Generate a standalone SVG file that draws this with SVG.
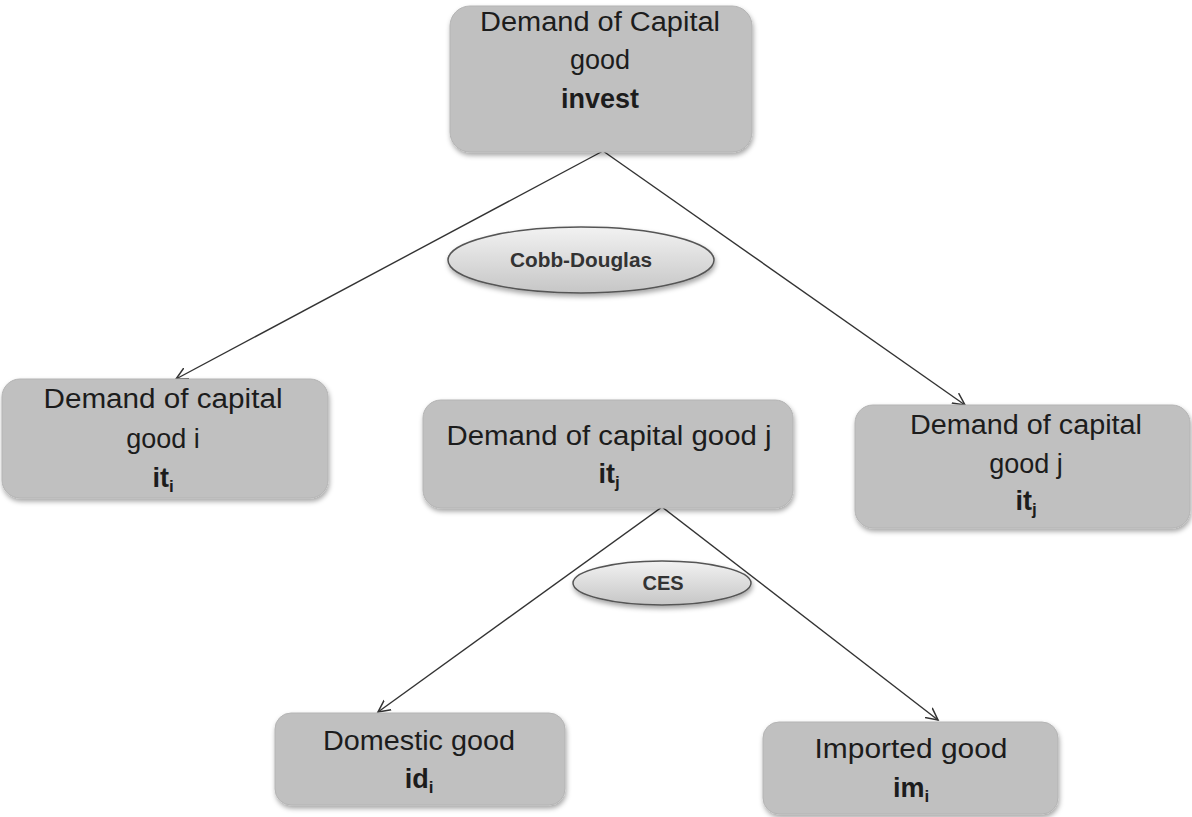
<svg xmlns="http://www.w3.org/2000/svg" width="1192" height="817" viewBox="0 0 1192 817">
<defs>
<filter id="sh" x="-10%" y="-10%" width="125%" height="135%">
<feDropShadow dx="1" dy="3" stdDeviation="2.5" flood-color="#000" flood-opacity="0.35"/>
</filter>
<linearGradient id="eg" x1="0" y1="0" x2="0" y2="1">
<stop offset="0" stop-color="#f2f2f2"/>
<stop offset="1" stop-color="#c6c6c6"/>
</linearGradient>
<marker id="arr" markerWidth="14" markerHeight="14" refX="12" refY="6" orient="auto" markerUnits="userSpaceOnUse" viewBox="0 0 14 12">
<path d="M0,0 L12,6 L0,12" fill="none" stroke="#333" stroke-width="1.5"/>
</marker>
</defs>
<style>
.box{fill:#c0c0c0;stroke:#b4b4b4;stroke-width:1;filter:url(#sh)}
.ell{fill:url(#eg);stroke:#555;stroke-width:1.5;filter:url(#sh)}
.t{font-family:"Liberation Sans",Arial,sans-serif;font-size:27px;fill:#1c1c1c;text-anchor:middle}
.b{font-weight:bold}
.s{font-size:17px}
.e{font-family:"Liberation Sans",Arial,sans-serif;font-size:20px;font-weight:bold;fill:#333;text-anchor:middle}
.c{stroke:#333;stroke-width:1.4;fill:none;marker-end:url(#arr)}
</style>
<rect width="1192" height="817" fill="#fff"/>
<g id="connectors">
<line class="c" x1="603" y1="151" x2="176" y2="379"/>
<line class="c" x1="603" y1="151" x2="965" y2="405"/>
<line class="c" x1="662" y1="507" x2="378" y2="712"/>
<line class="c" x1="662" y1="507" x2="938" y2="720"/>
</g>
<g id="n-top">
<rect class="box" x="450" y="6" width="302" height="146" rx="20"/>
<text class="t" x="600" y="31" textLength="240" lengthAdjust="spacingAndGlyphs">Demand of Capital</text>
<text class="t" x="600" y="69">good</text>
<text class="t b" x="600" y="108">invest</text>
</g>
<g id="n-left">
<rect class="box" x="2" y="379" width="326" height="119" rx="18"/>
<text class="t" x="163" y="408" textLength="239" lengthAdjust="spacingAndGlyphs">Demand of capital</text>
<text class="t" x="163" y="448">good i</text>
<text class="t b" x="163" y="487">it<tspan class="s" dy="5">i</tspan></text>
</g>
<g id="n-mid">
<rect class="box" x="423" y="400" width="370" height="108" rx="18"/>
<text class="t" x="609" y="445" textLength="325" lengthAdjust="spacingAndGlyphs">Demand of capital good j</text>
<text class="t b" x="609" y="483">it<tspan class="s" dy="5">j</tspan></text>
</g>
<g id="n-right">
<rect class="box" x="855" y="405" width="335" height="123" rx="18"/>
<text class="t" x="1026" y="434" textLength="232" lengthAdjust="spacingAndGlyphs">Demand of capital</text>
<text class="t" x="1026" y="473">good j</text>
<text class="t b" x="1026" y="510">it<tspan class="s" dy="5">j</tspan></text>
</g>
<g id="n-dom">
<rect class="box" x="275" y="713" width="290" height="92" rx="16"/>
<text class="t" x="419" y="750" textLength="192" lengthAdjust="spacingAndGlyphs">Domestic good</text>
<text class="t b" x="419" y="788">id<tspan class="s" dy="5">i</tspan></text>
</g>
<g id="n-imp">
<rect class="box" x="763" y="722" width="295" height="92" rx="16"/>
<text class="t" x="911" y="758" textLength="193" lengthAdjust="spacingAndGlyphs">Imported good</text>
<text class="t b" x="911" y="797">im<tspan class="s" dy="5">i</tspan></text>
</g>
<g id="n-cobb">
<ellipse class="ell" cx="581" cy="260" rx="133" ry="33"/>
<text class="e" x="581" y="267" textLength="142" lengthAdjust="spacingAndGlyphs">Cobb-Douglas</text>
</g>
<g id="n-ces">
<ellipse class="ell" cx="662" cy="583" rx="89" ry="22"/>
<text class="e" x="663" y="590">CES</text>
</g>
</svg>
